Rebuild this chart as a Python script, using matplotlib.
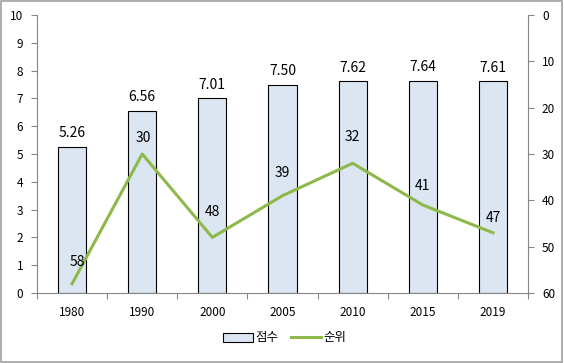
import matplotlib
matplotlib.use("Agg")
import matplotlib.pyplot as plt
from matplotlib.patches import Rectangle
import numpy as np

plt.rcParams['font.family'] = ['Noto Sans CJK KR', 'DejaVu Sans']

years = ['1980', '1990', '2000', '2005', '2010', '2015', '2019']
scores = [5.26, 6.56, 7.01, 7.50, 7.62, 7.64, 7.61]
ranks = [58, 30, 48, 39, 32, 41, 47]

bar_color = '#DCE6F2'
line_color = '#8DB94A'
axis_color = '#868686'

fig = plt.figure(figsize=(5.64, 3.63), dpi=100)
ax = fig.add_axes([37/564, 1-293/363, (528-37)/564, (293-15)/363])
x = np.arange(len(years))
bars = ax.bar(x, scores, width=0.4, color=bar_color, edgecolor='black', linewidth=0.8, label='점수', zorder=2)
ax.set_ylim(0, 10)
ax.set_xlim(-0.5, len(years)-0.5)
ax.set_yticks(range(0, 11))
ax.set_xticks(np.arange(-0.5, len(years), 1.0))
ax.set_xticklabels([])
ax.set_xticks(x, minor=True)
ax.set_xticklabels(years, minor=True)
ax.tick_params(axis='x', which='minor', length=0, pad=9, labelsize=8.5)
ax.tick_params(axis='x', which='major', length=4, color=axis_color, direction='out')
ax.tick_params(axis='y', length=4, color=axis_color, labelsize=8.5, pad=6)
for s in ['top', 'right']:
    ax.spines[s].set_visible(False)
for s in ['left', 'bottom']:
    ax.spines[s].set_color(axis_color)

for xi, v in zip(x, scores):
    ax.annotate(f'{v:.2f}', (xi, v), xytext=(0, 13.5), textcoords='offset pixels',
                ha='center', va='center', fontsize=10)

ax2 = ax.twinx()
line, = ax2.plot(x, ranks, color=line_color, linewidth=2.2, label='순위', zorder=3)
ax2.set_ylim(60, 0)
ax2.set_yticks(range(0, 61, 10))
ax2.tick_params(axis='y', length=4, color=axis_color, labelsize=8.5, pad=6)
for s in ['top', 'left', 'bottom']:
    ax2.spines[s].set_visible(False)
ax2.spines['right'].set_color(axis_color)
label_dy = [22, 16, 25, 23, 26, 19, 15]
label_dx = [5, 1, 0, 0, 0, 0, 0]
for xi, r, dx, dy in zip(x, ranks, label_dx, label_dy):
    ax2.annotate(str(r), (xi, r), xytext=(dx, dy), textcoords='offset pixels',
                 ha='center', va='center', fontsize=10)

fig.legend([bars, line], ['점수', '순위'], loc='center', bbox_to_anchor=(285/564, 1-338/363),
           ncol=2, frameon=False, fontsize=9, handlelength=2.4, handletextpad=0.2, columnspacing=1.0)

fig.patches.append(Rectangle((0.002, 0.003), 0.995, 0.994, transform=fig.transFigure,
                             fill=False, edgecolor='#A0A0A0', linewidth=1.2))

fig.savefig('out.png', dpi=100)
